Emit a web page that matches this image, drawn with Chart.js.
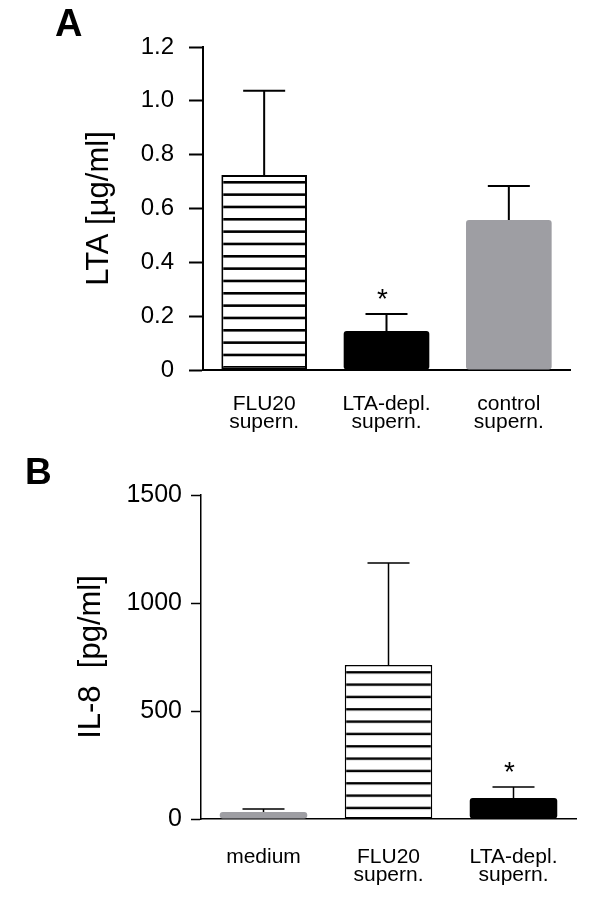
<!DOCTYPE html>
<html>
<head>
<meta charset="utf-8">
<script src="https://cdn.jsdelivr.net/npm/chart.js@4.4.1/dist/chart.umd.min.js"></script>
<style>
  body { margin: 0; background: #fff; font-family: 'Liberation Sans', Arial, sans-serif; }
  #wrap { position: relative; width: 600px; height: 909px; }
  .panel { position: absolute; left: 0; width: 600px; }
  #panelA { top: 0; height: 445px; }
  #panelB { top: 445px; height: 464px; }
  .letter { position: absolute; font-weight: bold; line-height: 1; color: #000; }
</style>
</head>
<body>
<div id="wrap">
  <div class="panel" id="panelA"><canvas id="chartA"></canvas></div>
  <div class="panel" id="panelB"><canvas id="chartB"></canvas></div>
  <div class="letter" style="left:55px;top:4px;font-size:38px">A</div>
  <div class="letter" style="left:25px;top:453px;font-size:37px">B</div>
</div>
<script>
// panel A - LTA content of supernatants
const labelsA = [['FLU20', 'supern.'], ['LTA-depl.', 'supern.'], ['control', 'supern.']];
const meansA = [0.724, 0.145, 0.557];
const errorsA = [0.313, 0.063, 0.127];
const starsA = ['', '*', ''];
const yTicksA = ['0', '0.2', '0.4', '0.6', '0.8', '1.0', '1.2'];

// panel B - IL-8 release
const labelsB = ['medium', ['FLU20', 'supern.'], ['LTA-depl.', 'supern.']];
const meansB = [32, 713, 97];
const errorsB = [14, 472, 51];
const starsB = ['', '', '*'];
const yTicksB = ['0', '500', '1000', '1500'];

const FONT = "'Liberation Sans', Arial, sans-serif";
const GRAY = '#9e9ea3';

function hatch(ctx, firstLine, lw) {
  const c = document.createElement('canvas');
  c.width = 8;
  c.height = 37; // three stripes of ~12.33px
  const g = c.getContext('2d');
  g.fillStyle = '#fff';
  g.fillRect(0, 0, c.width, c.height);
  g.fillStyle = '#000';
  for (let k = 0; k < 3; k++) g.fillRect(0, k * c.height / 3, c.width, lw);
  const p = ctx.createPattern(c, 'repeat');
  p.setTransform(new DOMMatrix().translate(0, firstLine - lw / 2));
  return p;
}

function errorBars(means, errors, stars, lw, capW) {
  return {
    id: 'errorBars',
    afterDatasetsDraw(chart) {
      const ctx = chart.ctx;
      const y = chart.scales.y;
      const meta = chart.getDatasetMeta(0);
      ctx.save();
      ctx.strokeStyle = '#000';
      ctx.fillStyle = '#000';
      ctx.lineWidth = lw;
      ctx.font = '28px ' + FONT;
      ctx.textAlign = 'center';
      ctx.textBaseline = 'alphabetic';
      meta.data.forEach((bar, i) => {
        const y0 = y.getPixelForValue(means[i]);
        const y1 = y.getPixelForValue(means[i] + errors[i]);
        ctx.beginPath();
        ctx.moveTo(bar.x, y0);
        ctx.lineTo(bar.x, y1);
        ctx.moveTo(bar.x - capW / 2, y1);
        ctx.lineTo(bar.x + capW / 2, y1);
        ctx.stroke();
        if (stars[i]) ctx.fillText(stars[i], bar.x - 4, y1 - 6);
      });
      ctx.restore();
    }
  };
}

function makeChart(id, cfg) {
  const ctx = document.getElementById(id).getContext('2d');
  return new Chart(ctx, {
    type: 'bar',
    data: {
      labels: cfg.labels,
      datasets: [{
        data: cfg.means,
        backgroundColor: cfg.fills,
        borderColor: '#000',
        borderWidth: cfg.borders,
        borderRadius: cfg.radius,
        borderSkipped: false,
        barPercentage: 0.7,
        categoryPercentage: 1.0
      }]
    },
    options: {
      responsive: true,
      maintainAspectRatio: false,
      animation: false,
      layout: { padding: { top: cfg.top, right: cfg.right, left: 0, bottom: 0 } },
      plugins: { legend: { display: false }, tooltip: { enabled: false } },
      scales: {
        x: {
          offset: true,
          grid: { display: false },
          border: { display: true, color: '#000', width: cfg.axisW },
          ticks: {
            color: '#000',
            padding: cfg.xPad,
            maxRotation: 0,
            autoSkip: false,
            font: { family: FONT, size: 21, lineHeight: 0.85 }
          },
          afterFit: s => { s.height = cfg.xHeight; }
        },
        y: {
          min: 0,
          max: cfg.max,
          grid: {
            display: true,
            drawOnChartArea: false,
            drawTicks: true,
            tickLength: cfg.tickLen,
            tickColor: '#000',
            tickWidth: cfg.axisW
          },
          border: { display: true, color: '#000', width: cfg.axisW },
          ticks: {
            stepSize: cfg.step,
            color: '#000',
            padding: cfg.yPad,
            font: { family: FONT, size: cfg.tickFont },
            callback: (v, i) => cfg.yTicks[i]
          },
          title: {
            display: true,
            text: cfg.title,
            color: '#000',
            font: { family: FONT, size: 31 },
            padding: { top: cfg.titlePad }
          },
          afterFit: s => { s.width = cfg.yWidth; }
        }
      }
    },
    plugins: [errorBars(cfg.means, cfg.errors, cfg.stars, cfg.axisW, 42)]
  });
}

const ctxA = document.getElementById('chartA').getContext('2d');
const ctxB = document.getElementById('chartB').getContext('2d');

makeChart('chartA', {
  labels: labelsA, means: meansA, errors: errorsA, stars: starsA, yTicks: yTicksA,
  fills: [hatch(ctxA, 182.3, 2.6), '#000', GRAY],
  borders: [2, 0, 0], radius: [0, 3, 3],
  top: 47, right: 30, xHeight: 75, yWidth: 203,
  max: 1.2, step: 0.2, tickLen: 14, yPad: 15, xPad: 17, axisW: 2, tickFont: 24,
  title: 'LTA [µg/ml]', titlePad: 81
});

makeChart('chartB', {
  labels: labelsB, means: meansB, errors: errorsB, stars: starsB, yTicks: yTicksB,
  fills: [GRAY, hatch(ctxB, 227.3, 2.4), '#000'],
  borders: [0, 1.5, 0], radius: [3, 0, 3],
  top: 50, right: 24, xHeight: 90, yWidth: 201,
  max: 1500, step: 500, tickLen: 10, yPad: 9, xPad: 21, axisW: 1.5, tickFont: 25,
  title: 'IL-8  [pg/ml]', titlePad: 73
});
</script>
</body>
</html>
